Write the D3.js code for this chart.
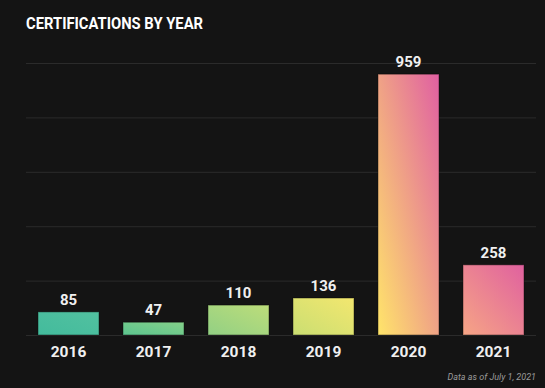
<!DOCTYPE html>
<html>
<head>
<meta charset="utf-8">
<script src="https://cdn.jsdelivr.net/npm/d3@7"></script>
<style>
  html, body { margin: 0; padding: 0; background: #141414; }
  svg { display: block; }
</style>
</head>
<body>
<svg id="chart" width="545" height="388"></svg>
<script>
const years = ["2016", "2017", "2018", "2019", "2020", "2021"];
const certifications = [85, 47, 110, 136, 959, 258];
const yTicks = [0, 200, 400, 600, 800, 1000];

// per-bar gradient colours (style)
const gradStart = ["#43bb9c", "#5cc48f", "#92d084", "#cade72", "#ffe56a", "#f6a585"];
const gradEnd   = ["#52c1a0", "#84d089", "#bddd7a", "#f3e76f", "#e05fa2", "#e0619f"];

const W = 545, H = 388;
const m = { left: 26, right: 9, top: 63, bottom: 53 };
const svg = d3.select("#chart");

svg.append("rect").attr("width", W).attr("height", H).attr("fill", "#141414");

const x = d3.scaleBand().domain(years).range([m.left, W - m.right])
  .paddingInner(0.282).paddingOuter(0.141);
const y = d3.scaleLinear().domain([0, 1000]).range([H - m.bottom, m.top]);

const defs = svg.append("defs");
years.forEach((yr, i) => {
  const g = defs.append("linearGradient").attr("id", "g" + i)
    .attr("x1", 0).attr("y1", 1).attr("x2", 1).attr("y2", 0);
  g.append("stop").attr("offset", "0%").attr("stop-color", gradStart[i]);
  g.append("stop").attr("offset", "100%").attr("stop-color", gradEnd[i]);
});

// gridlines
const grid = d3.axisLeft(y).tickValues(yTicks).tickSize(-(W - m.left - m.right)).tickFormat("");
const gg = svg.append("g").attr("transform", `translate(${m.left},0)`).call(grid);
gg.select(".domain").remove();
gg.selectAll(".tick line").attr("stroke", "#2b2b2b").attr("stroke-width", 1);

// bars
svg.selectAll("rect.bar").data(certifications).join("rect")
  .attr("class", "bar")
  .attr("x", (d, i) => x(years[i]))
  .attr("y", d => y(d))
  .attr("width", x.bandwidth())
  .attr("height", d => y(0) - y(d))
  .attr("fill", (d, i) => `url(#g${i})`)
  .attr("stroke", "rgba(0,0,0,0.35)")
  .attr("stroke-width", 1.2);

// value labels
svg.selectAll("text.val").data(certifications).join("text")
  .attr("class", "val")
  .attr("x", (d, i) => x(years[i]) + x.bandwidth() / 2)
  .attr("y", d => y(d) - 7)
  .attr("text-anchor", "middle")
  .attr("fill", "#f0f0f0")
  .attr("font-family", "Roboto, sans-serif")
  .attr("font-weight", 700)
  .attr("font-size", 15)
  .text(d => d);

// x axis labels
const xa = d3.axisBottom(x).tickSize(0).tickPadding(0);
const xg = svg.append("g").attr("transform", `translate(0,${y(0)})`).call(xa);
xg.select(".domain").remove();
xg.selectAll(".tick text")
  .attr("y", 22)
  .attr("dy", 0)
  .attr("fill", "#f0f0f0")
  .attr("font-family", "Roboto, sans-serif")
  .attr("font-weight", 700)
  .attr("font-size", 15.5);

// title
svg.append("text")
  .attr("x", 26).attr("y", 28.5)
  .attr("fill", "#ffffff")
  .attr("font-family", "Roboto, sans-serif")
  .attr("font-weight", 700)
  .attr("font-size", 16.5)
  .attr("textLength", 177)
  .attr("lengthAdjust", "spacingAndGlyphs")
  .text("CERTIFICATIONS BY YEAR");

// footnote
svg.append("text")
  .attr("x", 536).attr("y", 380)
  .attr("text-anchor", "end")
  .attr("fill", "#9a9a9a")
  .attr("font-family", "Roboto, sans-serif")
  .attr("font-style", "italic")
  .attr("font-size", 9)
  .text("Data as of July 1, 2021");
</script>
</body>
</html>
